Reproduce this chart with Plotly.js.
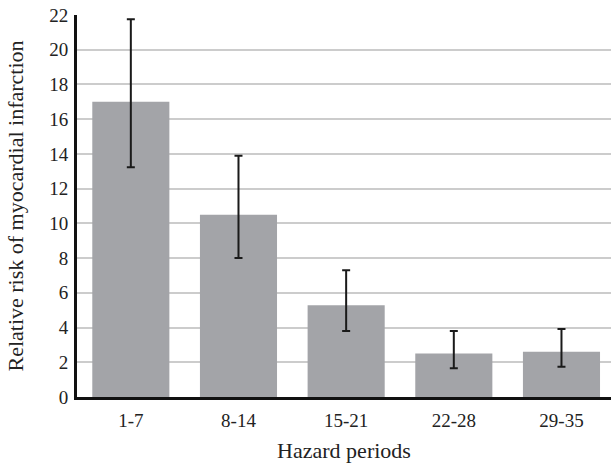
<!DOCTYPE html>
<html><head><meta charset="utf-8">
<script src="https://cdn.plot.ly/plotly-3.0.1.min.js"></script>
<style>html,body{margin:0;padding:0;background:#fff}#chart{width:611px;height:463px}</style>
</head><body><div id="chart"></div>
<script>
var periods = ["1-7", "8-14", "15-21", "22-28", "29-35"];
var relativeRisk = [17.0, 10.5, 5.28, 2.5, 2.6];
var upperCI = [21.75, 13.9, 7.3, 3.8, 3.92];
var lowerCI = [13.23, 8.0, 3.8, 1.66, 1.74];

var errPlus = relativeRisk.map(function(v, i){ return upperCI[i] - v; });
var errMinus = relativeRisk.map(function(v, i){ return v - lowerCI[i]; });

var trace = {
  type: 'bar',
  x: periods,
  y: relativeRisk,
  marker: {color: '#a3a4a8'},
  error_y: {type: 'data', symmetric: false, array: errPlus, arrayminus: errMinus,
            color: '#1a1a1a', thickness: 2, width: 4},
  hoverinfo: 'none'
};

var layout = {
  width: 611, height: 463,
  margin: {l: 77, r: 0, t: 15, b: 66},
  paper_bgcolor: '#fff', plot_bgcolor: '#fff',
  bargap: 0.284,
  showlegend: false,
  font: {family: 'Liberation Serif, Times New Roman, serif', color: '#222', size: 19},
  xaxis: {
    type: 'category',
    range: [-0.5, 4.46],
    showline: true, linecolor: '#111', linewidth: 3,
    ticks: '', showgrid: false,
    tickfont: {size: 19},
    ticklabelstandoff: 4,
    automargin: false,
    title: {text: 'Hazard periods', font: {size: 22}, standoff: 13}
  },
  yaxis: {
    range: [0, 22],
    dtick: 2,
    showline: true, linecolor: '#111', linewidth: 3,
    ticks: '', showgrid: true, gridcolor: '#cccccc', gridwidth: 2,
    zeroline: false,
    tickfont: {size: 19},
    ticklabelstandoff: 2,
    automargin: false,
    title: {text: 'Relative risk of myocardial infarction', font: {size: 22}, standoff: 20}
  }
};

Plotly.newPlot('chart', [trace], layout, {staticPlot: true, displayModeBar: false});
</script>
</body></html>
